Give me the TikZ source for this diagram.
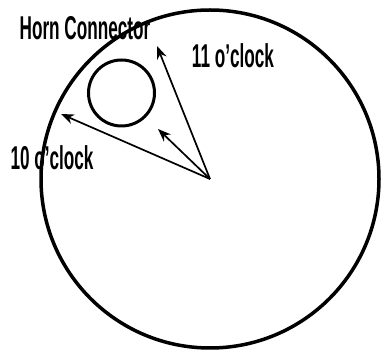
\documentclass[tikz,border=0pt]{standalone}
\usepackage{fontspec}
\newfontfamily\labelfont[FakeStretch=0.52]{Liberation Sans Bold}
\usetikzlibrary{arrows.meta}
\tikzset{
  pointer/.style={-{Stealth[length=13pt, width=10pt]}, line width=1.7pt},
  rim/.style={draw, circle, line width=3.5pt, inner sep=0pt},
  label/.style={font=\labelfont\fontsize{33}{37}\selectfont, inner sep=0pt}
}
\begin{document}
\begin{tikzpicture}[x=1pt, y=-1pt]
  \useasboundingbox (0,0) rectangle (383,352);
  \node[rim, minimum size=338pt] (face) at (210,179) {};
  \node[rim, line width=3pt, minimum size=66pt] (horn) at (121.5,93) {};
  \coordinate (ctr) at (210,179);
  \coordinate (tip11) at (157,46);
  \coordinate (tiphorn) at (158,129);
  \coordinate (tip10) at (61,114);
  \draw[pointer] (ctr) -- (tip11);
  \draw[pointer] (ctr) -- (tiphorn);
  \draw[pointer] (ctr) -- (tip10);
  \node[label] (hornlbl) at (85,28) {Horn Connector};
  \node[label] (lbl11) at (233,56) {11 o’clock};
  \node[label] (lbl10) at (52,158) {10 o’clock};
\end{tikzpicture}
\end{document}
